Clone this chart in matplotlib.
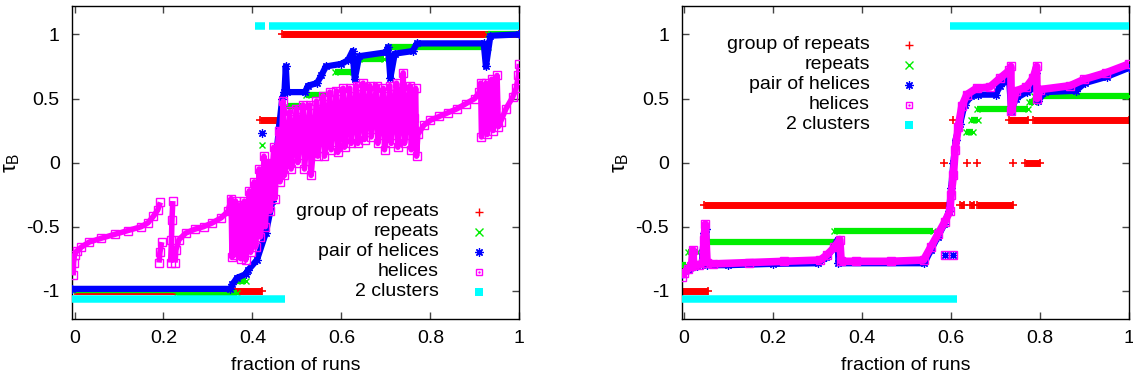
import numpy as np
import matplotlib
matplotlib.use("Agg")
import matplotlib.pyplot as plt

nan = np.nan

# ---------------- data ----------------
series_names = ["group of repeats", "repeats", "pair of helices", "helices", "2 clusters"]
x_ticks = [0, 0.2, 0.4, 0.6, 0.8, 1]
x_tick_labels = ["0", "0.2", "0.4", "0.6", "0.8", "1"]
y_ticks = [-1, -0.5, 0, 0.5, 1]
y_tick_labels = ["-1", "-0.5", "0", "0.5", "1"]

# left panel
left_red_x = [0.0, 0.422, nan, 0.418, 0.46, nan, 0.466, 1.0]
left_red_y = [-1, -1, nan, 0.333, 0.333, nan, 1, 1]

left_green_x = [-0.005, 0.23, nan, 0.23, 0.365, nan, 0.365, 0.385, nan, 0.421, nan, 0.478, 0.515, nan,
                0.52, 0.565, nan, 0.585, 0.625, nan, 0.64, 0.695, nan, 0.705, 0.93, nan, 0.93, 1.0]
left_green_y = [-0.99, -0.99, nan, -1.02, -1.02, nan, -0.92, -0.92, nan, 0.14, nan, 0.44, 0.44, nan,
                0.53, 0.53, nan, 0.71, 0.71, nan, 0.81, 0.81, nan, 0.90, 0.90, nan, 1.0, 1.0]

left_blue_x = [-0.005, 0.35, 0.355, 0.365, 0.385, 0.39, 0.41, 0.43, 0.445, 0.452, 0.46,
               0.467, 0.472, 0.475, 0.478, 0.518, 0.525, 0.545, 0.555, 0.565, 0.60, 0.615,
               0.625, 0.63, 0.64, 0.70, 0.705, 0.71, 0.72, 0.76, 0.77, 0.92, 0.925, 0.935, 1.0,
               nan, 0.421]
left_blue_y = [-0.985, -0.985, -0.95, -0.90, -0.87, -0.84, -0.76, -0.55, -0.30, 0.0, 0.28,
               0.50, 0.55, 0.75, 0.55, 0.55, 0.60, 0.62, 0.68, 0.75, 0.77, 0.80,
               0.87, 0.65, 0.83, 0.86, 0.90, 0.66, 0.85, 0.87, 0.93, 0.93, 0.75, 0.99, 1.0,
               nan, 0.23]

left_mag_x = [-0.003, -0.002, 0.0, 0.005, 0.015, 0.033, 0.06, 0.09, 0.12, 0.15, 0.165, 0.177,
              0.187, 0.193, nan,
              0.190, 0.192, 0.196, nan,
              0.216, 0.218, 0.219, 0.221, nan,
              0.226, 0.228, 0.235, 0.25, 0.27, 0.29, 0.31, 0.33, 0.345,
              0.352, 0.354, 0.358, 0.362, 0.364, 0.368, 0.372, 0.374, 0.378, 0.382, 0.385,
              0.389, 0.393, 0.396, 0.40, 0.404, 0.407, 0.411, 0.415, 0.418, 0.422, 0.426,
              0.429, 0.433, 0.437, 0.440, 0.444, 0.448, 0.451, 0.455, 0.459, 0.462, 0.466,
              0.469, 0.472, 0.478, 0.484, 0.487, 0.493, 0.499, 0.502, 0.508, 0.514, 0.517,
              0.523, 0.529, 0.532, 0.538, 0.544, 0.547, 0.553, 0.559, 0.562, 0.568, 0.574,
              0.577, 0.583, 0.589, 0.592, 0.598, 0.604, 0.607, 0.613, 0.619, 0.622, 0.628,
              0.634, 0.637, 0.643, 0.649, 0.652, 0.658, 0.664, 0.667, 0.673, 0.679, 0.682,
              0.688, 0.694, 0.697, 0.703, 0.709, 0.712, 0.718, 0.724, 0.727, 0.733, 0.739,
              0.742, 0.748, 0.754, 0.757, 0.763, 0.767, 0.769, 0.772, 0.785,
              0.80, 0.82, 0.84, 0.86, 0.88, 0.90, 0.91, 0.913, 0.915, 0.92, 0.925, 0.928,
              0.933, 0.938, 0.941, 0.946, 0.95, 0.953, 0.958, 0.97, 0.985, 0.993, 0.998, 1.0]
left_mag_y = [-0.88, -0.78, -0.72, -0.69, -0.66, -0.62, -0.59, -0.56, -0.53, -0.50, -0.47, -0.42,
              -0.37, -0.31, nan,
              -0.78, -0.70, -0.62, nan,
              -0.78, -0.60, -0.45, -0.30, nan,
              -0.78, -0.68, -0.60, -0.55, -0.52, -0.50, -0.47, -0.43, -0.38,
              -0.28, -0.74, -0.50, -0.30, -0.72, -0.50, -0.33, -0.75, -0.55, -0.30, -0.76,
              -0.50, -0.22, -0.70, -0.45, -0.15, -0.66, -0.40, -0.05, -0.58, -0.30, 0.05,
              -0.50, -0.25, 0.00, -0.38, -0.10, 0.12, -0.28, 0.05, 0.25, -0.15, 0.20,
              0.48, -0.10, 0.15, 0.40, -0.05, 0.20, 0.42, 0.00, 0.22, 0.45, -0.05,
              0.20, 0.45, -0.10, 0.15, 0.48, 0.05, 0.28, 0.52, 0.05, 0.30, 0.55,
              0.10, 0.32, 0.56, 0.08, 0.30, 0.58, 0.12, 0.35, 0.58, 0.15, 0.35,
              0.60, 0.15, 0.38, 0.62, 0.18, 0.38, 0.60, 0.20, 0.40, 0.60, 0.15,
              0.35, 0.58, 0.10, 0.35, 0.60, 0.15, 0.38, 0.62, 0.12, 0.38, 0.70,
              0.15, 0.38, 0.60, 0.10, 0.35, 0.58, 0.05, 0.22, 0.29,
              0.33, 0.36, 0.39, 0.42, 0.46, 0.50, 0.55, 0.62, 0.20, 0.40, 0.62, 0.22,
              0.42, 0.65, 0.25, 0.45, 0.68, 0.28, 0.32, 0.42, 0.51, 0.58, 0.68, 0.77]

left_cyan_x = [-0.005, 0.473, nan, 0.406, 0.428, nan, 0.437, 1.0]
left_cyan_y = [-1.067, -1.067, nan, 1.065, 1.065, nan, 1.065, 1.065]

# right panel
right_red_x = [-0.005, 0.053, nan, 0.045, 0.597, nan, 0.62, 0.628, nan, 0.643, 0.652, nan,
               0.657, 0.739, nan, 0.585, nan, 0.635, nan, 0.657, nan, 0.739, nan,
               0.766, 0.80, nan, 0.605, nan, 0.731, 0.773, nan, 0.784, 1.0]
right_red_y = [-1, -1, nan, -0.333, -0.333, nan, -0.333, -0.333, nan, -0.333, -0.333, nan,
               -0.333, -0.333, nan, 0, nan, 0, nan, 0, nan, 0, nan,
               0, 0, nan, 0.333, nan, 0.333, 0.333, nan, 0.333, 0.333]

right_green_x = [-0.005, 0.005, nan, 0.01, 0.03, nan, 0.045, 0.338, nan, 0.338, 0.56, nan,
                 0.633, 0.65, nan, 0.645, 0.66, nan, 0.657, 0.773, nan, 0.775, 0.786, nan,
                 0.787, 1.0]
right_green_y = [-0.80, -0.80, nan, -0.70, -0.70, nan, -0.62, -0.62, nan, -0.53, -0.53, nan,
                 0.24, 0.24, nan, 0.33, 0.33, nan, 0.42, 0.42, nan, 0.47, 0.47, nan,
                 0.52, 0.52]

right_blue_x = [-0.005, 0.01, 0.03, 0.04, 0.045, 0.05, 0.052, 0.1, 0.2, 0.30, 0.32, 0.335,
                0.345, 0.347, 0.54, 0.555, 0.57, 0.585, 0.595, 0.60, 0.605, 0.61, 0.62, 0.63,
                0.645, 0.66, 0.70, 0.71, 0.73, 0.735, 0.745, 0.77, 0.785, 0.79, 0.795, 0.81,
                0.88, 0.90, 0.95, 1.0, nan, 0.586, nan, 0.605]
right_blue_y = [-0.87, -0.84, -0.81, -0.79, -0.55, -0.52, -0.80, -0.80, -0.79, -0.785, -0.74,
                -0.67, -0.60, -0.785, -0.785, -0.68, -0.58, -0.48, -0.38, -0.20, 0.0, 0.18,
                0.30, 0.45, 0.52, 0.53, 0.53, 0.60, 0.65, 0.40, 0.50, 0.55, 0.58, 0.70,
                0.48, 0.55, 0.56, 0.62, 0.67, 0.74, nan, -0.72, nan, -0.72]

right_mag_x = [-0.005, 0.0, 0.01, 0.017, 0.02, 0.022, 0.033, 0.043, 0.045, 0.048, 0.052,
               0.065, 0.145, 0.225, 0.306, 0.321, 0.338, 0.35, 0.353, 0.386, 0.466, 0.538,
               0.554, 0.57, 0.586, 0.597, 0.60, 0.605, 0.609, 0.616, 0.624, 0.635, 0.657,
               0.687, 0.71, 0.731, 0.734, 0.735, 0.746, 0.769, 0.784, 0.792, 0.793, 0.80,
               0.867, 0.899, 0.947, 1.0, nan, 0.586, nan, 0.605]
right_mag_y = [-0.89, -0.86, -0.83, -0.81, -0.68, -0.80, -0.80, -0.78, -0.60, -0.48, -0.78,
               -0.79, -0.78, -0.77, -0.76, -0.72, -0.66, -0.60, -0.77, -0.77, -0.77, -0.76,
               -0.66, -0.56, -0.46, -0.38, -0.25, -0.10, 0.10, 0.28, 0.44, 0.53, 0.58,
               0.59, 0.66, 0.72, 0.75, 0.40, 0.56, 0.59, 0.66, 0.75, 0.50, 0.57,
               0.60, 0.65, 0.70, 0.77, nan, -0.72, nan, -0.72]

right_cyan_x = [-0.005, 0.613, nan, 0.598, 1.0]
right_cyan_y = [-1.067, -1.067, nan, 1.067, 1.067]

# ---------------- styling ----------------
plt.rcParams["font.family"] = ["Liberation Sans", "DejaVu Sans"]
plt.rcParams["axes.unicode_minus"] = False
plt.rcParams["mathtext.fontset"] = "custom"
plt.rcParams["mathtext.rm"] = "Liberation Sans"
plt.rcParams["mathtext.it"] = "Liberation Sans"

FS = 14
RED, GREEN, BLUE, MAG, CYAN = "#ff0000", "#00ee00", "#0000ff", "#ff00ff", "#00ffff"

W, H = 1133, 379
fig = plt.figure(figsize=(W / 100, H / 100), dpi=100)
axL = fig.add_axes([72.3 / W, 60 / H, 447 / W, 313.3 / H])
axR = fig.add_axes([681.7 / W, 60 / H, 447.6 / W, 313.3 / H])


def band(ax, x, y, color, lw, marker, ms, mew, z, mfc=None):
    ax.plot(x, y, color=color, lw=lw, solid_capstyle="butt", solid_joinstyle="round",
            marker=marker, ms=ms, mew=mew, mec=color,
            mfc=(color if mfc is None else mfc), zorder=z)


def draw_panel(ax, rx, ry, gx, gy, bx, by, mx, my, cx, cy, mag_lw):
    band(ax, rx, ry, RED, 5.0, "+", 6, 1.2, 2)
    band(ax, gx, gy, GREEN, 4.5, "x", 5, 1.0, 3)
    band(ax, bx, by, BLUE, 4.5, (8, 2, 0), 6, 0.9, 4)
    band(ax, mx, my, MAG, mag_lw, "s", 6, 1.0, 5, mfc="none")
    band(ax, cx, cy, CYAN, 5.4, None, 0, 0, 6)

    ax.set_xlim(-0.005, 1.0)
    ax.set_ylim(-1.22, 1.224)
    ax.set_xticks(x_ticks)
    ax.set_xticklabels(x_tick_labels)
    ax.set_yticks(y_ticks)
    ax.set_yticklabels(y_tick_labels)
    ax.tick_params(direction="in", length=5, width=1, color="#444444",
                   top=True, right=True, labelsize=FS, pad=8)
    ax.tick_params(axis="y", pad=9)
    for s in ax.spines.values():
        s.set_linewidth(1.0)
        s.set_color("black")
    ax.set_xlabel("fraction of runs", fontsize=FS, labelpad=7)
    ax.set_ylabel(r"$\mathregular{\tau_B}$", fontsize=16, labelpad=3)


def legend(ax, tx, mx, y0, dy):
    markers = [(RED, "+", 6, 1.0, None), (GREEN, "x", 5.5, 1.0, None),
               (BLUE, (8, 2, 0), 6, 0.9, None), (MAG, "s", 5, 1.0, "none"),
               (CYAN, "s", 5.6, 0, None)]
    for i, (name, (c, mk, ms, mew, mfc)) in enumerate(zip(series_names, markers)):
        yy = y0 - i * dy
        ax.text(tx, yy, name, transform=ax.transAxes, ha="right", va="center",
                fontsize=FS, zorder=10)
        ax.plot([mx], [yy], transform=ax.transAxes, marker=mk, ms=ms, mew=mew,
                mec=c, mfc=(c if mfc is None else mfc), ls="none", clip_on=False, zorder=10)
        if mk == "s" and mfc == "none":
            ax.plot([mx], [yy], transform=ax.transAxes, marker=".", ms=1.5, color=c,
                    ls="none", clip_on=False, zorder=10)


draw_panel(axL, left_red_x, left_red_y, left_green_x, left_green_y, left_blue_x, left_blue_y,
           left_mag_x, left_mag_y, left_cyan_x, left_cyan_y, 4.0)
draw_panel(axR, right_red_x, right_red_y, right_green_x, right_green_y, right_blue_x,
           right_blue_y, right_mag_x, right_mag_y, right_cyan_x, right_cyan_y, 5.5)

legend(axL, 0.820, 0.910, 0.3425, 0.0638)
legend(axR, 0.4207, 0.5088, 0.8746, 0.0638)

fig.savefig("out.png", dpi=100)
